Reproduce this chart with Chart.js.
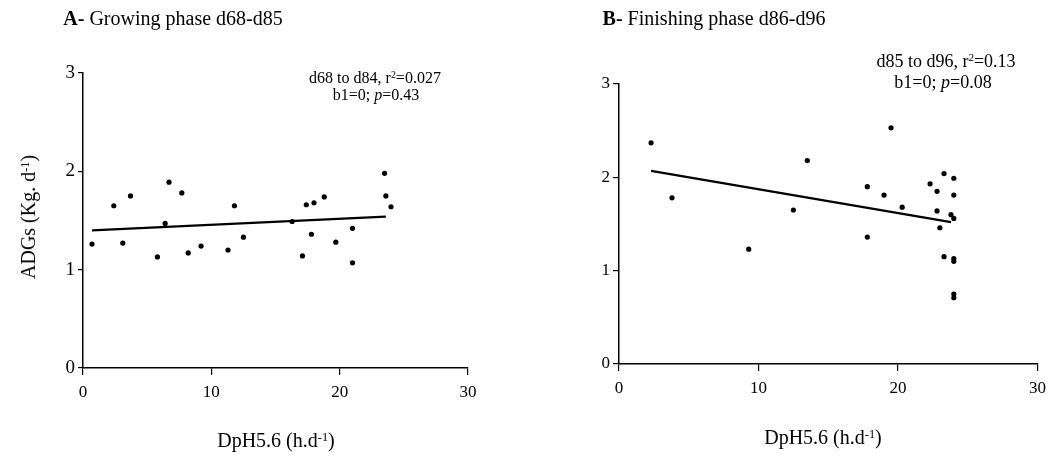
<!DOCTYPE html>
<html><head><meta charset="utf-8">
<script src="https://cdn.jsdelivr.net/npm/chart.js@4.4.0/dist/chart.umd.min.js"></script>
<style>
html,body{margin:0;padding:0;background:#fff;}
body{width:1053px;height:462px;position:relative;overflow:hidden;font-family:"Liberation Serif","Times New Roman",serif;color:#000;}
.box{position:absolute;top:0;height:462px;}
.t{position:absolute;white-space:nowrap;transform:translate(-50%,-50%);line-height:1.2;text-align:center;}
sup{font-size:0.62em;vertical-align:baseline;position:relative;top:-0.5em;}
</style></head><body>
<div class="box" style="left:0;width:500px"><canvas id="cA"></canvas></div>
<div class="box" style="left:540px;width:513px"><canvas id="cB"></canvas></div>

<div class="t" style="left:173px;top:18px;font-size:20px"><b>A-</b> Growing phase d68-d85</div>
<div class="t" style="left:714px;top:18px;font-size:20px"><b>B-</b> Finishing phase d86-d96</div>

<div class="t" style="left:375px;top:78px;font-size:16px">d68 to d84, r<sup>2</sup>=0.027</div>
<div class="t" style="left:376px;top:95px;font-size:16px">b1=0; <i>p</i>=0.43</div>

<div class="t" style="left:946px;top:62px;font-size:18px">d85 to d96, r<sup>2</sup>=0.13</div>
<div class="t" style="left:943px;top:83px;font-size:18px">b1=0; <i>p</i>=0.08</div>

<div class="t" style="left:28px;top:217px;font-size:20px;transform:translate(-50%,-50%) rotate(-90deg)">ADGs (Kg. d<sup>-1</sup>)</div>
<div class="t" style="left:276px;top:440px;font-size:20px">DpH5.6 (h.d<sup>-1</sup>)</div>
<div class="t" style="left:823px;top:437px;font-size:20px">DpH5.6 (h.d<sup>-1</sup>)</div>

<script>
// ---- data ----
const xTicks = [0, 10, 20, 30];
const yTicks = [0, 1, 2, 3];

// Panel A: growing phase d68-d85
const growX = [0.7, 2.4, 3.1, 3.7, 5.8, 6.4, 6.7, 7.7, 8.2, 9.2, 11.3, 11.8, 12.5, 16.3, 17.1, 17.4, 17.8, 18.0, 18.8, 19.7, 21.0, 21.0, 23.5, 23.6, 24.0];
const growY = [1.26, 1.65, 1.27, 1.75, 1.13, 1.47, 1.89, 1.78, 1.17, 1.24, 1.20, 1.65, 1.33, 1.49, 1.14, 1.66, 1.36, 1.68, 1.74, 1.28, 1.42, 1.07, 1.98, 1.75, 1.64];
const fitAX = [0.7, 23.6];
const fitAY = [1.40, 1.54];

// Panel B: finishing phase d86-d96
const finX = [2.3, 3.8, 9.3, 12.5, 13.5, 19.5, 17.8, 17.8, 19.0, 20.3, 22.3, 23.3, 24.0, 22.8, 24.0, 22.8, 23.8, 24.0, 23.0, 23.3, 24.0, 24.0, 24.0, 24.0];
const finY = [2.37, 1.78, 1.23, 1.65, 2.18, 2.53, 1.90, 1.36, 1.81, 1.68, 1.93, 2.04, 1.99, 1.85, 1.81, 1.64, 1.60, 1.56, 1.46, 1.15, 1.13, 1.10, 0.75, 0.71];
const fitBX = [2.3, 23.8];
const fitBY = [2.07, 1.52];

function pts(xs, ys) { return xs.map((x, i) => ({ x: x, y: ys[i] })); }

function makeChart(id, cfg) {
  return new Chart(document.getElementById(id), {
    type: 'scatter',
    data: {
      datasets: [
        { data: pts(cfg.px, cfg.py), backgroundColor: '#000', borderColor: '#000', pointRadius: 2.6, pointHoverRadius: 2.6, borderWidth: 0 },
        { type: 'line', data: pts(cfg.lx, cfg.ly), borderColor: '#000', borderWidth: 2.2, pointRadius: 0, fill: false, showLine: true, tension: 0 }
      ]
    },
    options: {
      responsive: true, maintainAspectRatio: false, animation: false,
      layout: { padding: { left: 0, right: cfg.padR, top: cfg.padT, bottom: 0 } },
      plugins: { legend: { display: false }, tooltip: { enabled: false }, title: { display: false } },
      events: [],
      scales: {
        x: {
          type: 'linear', min: 0, max: 30,
          afterBuildTicks: s => { s.ticks = xTicks.map(v => ({ value: v })); },
          afterFit: s => { s.height = cfg.xH; },
          grid: { display: true, drawOnChartArea: false, drawTicks: true, tickLength: 7, color: '#000', lineWidth: 1.2 },
          border: { display: true, color: '#000', width: 1.5 },
          ticks: { color: '#000', padding: 7, maxRotation: 0, font: { family: 'Liberation Serif', size: 17 } }
        },
        y: {
          type: 'linear', min: 0, max: 3,
          afterBuildTicks: s => { s.ticks = yTicks.map(v => ({ value: v })); },
          afterFit: s => { s.width = cfg.yW; },
          grid: { display: true, drawOnChartArea: false, drawTicks: true, tickLength: cfg.yTL, color: '#000', lineWidth: 1.2 },
          border: { display: true, color: '#000', width: 1.5 },
          ticks: { color: '#000', padding: 3, font: { family: 'Liberation Serif', size: cfg.yFont } }
        }
      }
    }
  });
}

makeChart('cA', { px: growX, py: growY, lx: fitAX, ly: fitAY, padR: 32, padT: 73, xH: 94, yW: 83, yTL: 5, yFont: 19 });
makeChart('cB', { px: finX, py: finY, lx: fitBX, ly: fitBY, padR: 14, padT: 84, xH: 98, yW: 79, yTL: 6, yFont: 17 });
</script>
</body></html>
